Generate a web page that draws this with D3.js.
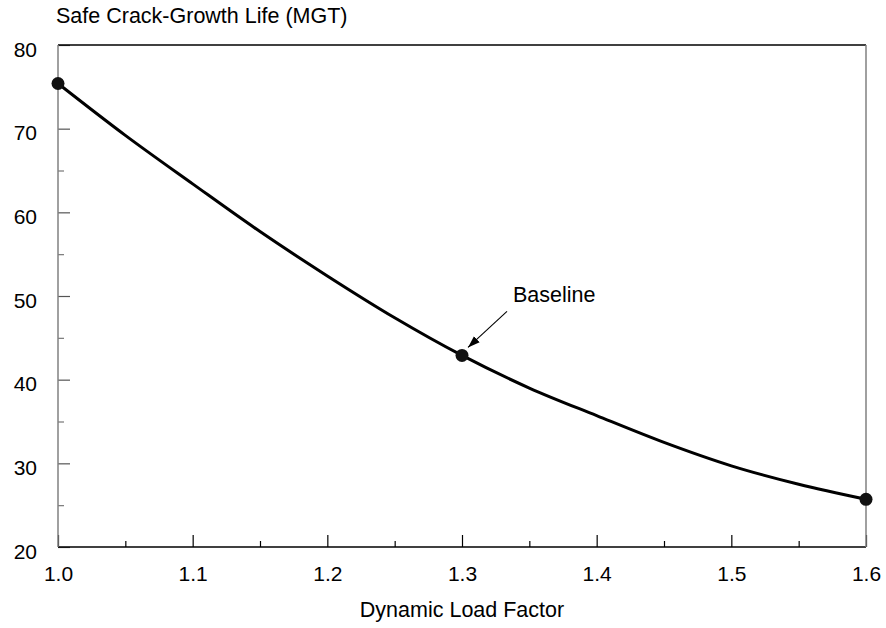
<!DOCTYPE html>
<html>
<head>
<meta charset="utf-8">
<script src="https://cdn.jsdelivr.net/npm/d3@7"></script>
<style>
  html, body { margin: 0; padding: 0; background: #fff; }
  svg { display: block; font-family: Arial, "Liberation Sans", sans-serif; }
</style>
</head>
<body>
<svg id="chart" width="886" height="628"></svg>
<script>
// ---- data ----
const loadFactors = [1.0, 1.05, 1.1, 1.15, 1.2, 1.25, 1.3, 1.35, 1.4, 1.45, 1.5, 1.55, 1.6];
const lifeMGT     = [75.4, 69.2, 63.4, 57.7, 52.4, 47.4, 42.9, 39.0, 35.7, 32.5, 29.7, 27.5, 25.7];
const markerFactors = [1.0, 1.3, 1.6];
const xMajorTicks = [1.0, 1.1, 1.2, 1.3, 1.4, 1.5, 1.6];
const xMinorTicks = [1.05, 1.15, 1.25, 1.35, 1.45, 1.55];
const yMajorTicks = [20, 30, 40, 50, 60, 70, 80];
const yMinorTicks = [25, 35, 45, 55, 65, 75];
const yTitle = "Safe Crack-Growth Life (MGT)";
const xTitle = "Dynamic Load Factor";
const annotation = { x: 1.3, text: "Baseline" };

// ---- layout ----
const L = 58, R = 866, T = 45, B = 547;
const svg = d3.select("#chart");
const x = d3.scaleLinear().domain([1.0, 1.6]).range([L, R]);
const y = d3.scaleLinear().domain([20, 80]).range([B, T]);
const fsTick = 21, fsTitle = 21.5;

// axes (ticks inside)
const gx = svg.append("g").attr("transform", `translate(0,${B})`)
  .call(d3.axisBottom(x).tickValues(xMajorTicks).tickSize(-12).tickFormat(d3.format(".1f")));
gx.select(".domain").remove();
gx.selectAll("line").attr("stroke", "#000").attr("stroke-width", 1.2);
gx.selectAll("text").attr("font-size", fsTick).attr("fill", "#000").attr("y", 34).attr("dy", null);

const gxm = svg.append("g").attr("transform", `translate(0,${B})`)
  .call(d3.axisBottom(x).tickValues(xMinorTicks).tickSize(-6).tickFormat(""));
gxm.select(".domain").remove();
gxm.selectAll("line").attr("stroke", "#000").attr("stroke-width", 1.2);

const gy = svg.append("g").attr("transform", `translate(${L},0)`)
  .call(d3.axisLeft(y).tickValues(yMajorTicks).tickSize(-12).tickFormat(d3.format("d")));
gy.select(".domain").remove();
gy.selectAll("line").attr("stroke", "#555").attr("stroke-width", 1.2);
gy.selectAll("text").attr("font-size", fsTick).attr("fill", "#000")
  .attr("x", -21).attr("dy", null).attr("y", 11);

const gym = svg.append("g").attr("transform", `translate(${L},0)`)
  .call(d3.axisLeft(y).tickValues(yMinorTicks).tickSize(-6).tickFormat(""));
gym.select(".domain").remove();
gym.selectAll("line").attr("stroke", "#777").attr("stroke-width", 1.2);

// frame
svg.append("line").attr("x1", L).attr("x2", R).attr("y1", T).attr("y2", T).attr("stroke", "#000").attr("stroke-width", 1.3);
svg.append("line").attr("x1", L).attr("x2", R).attr("y1", B).attr("y2", B).attr("stroke", "#000").attr("stroke-width", 1.3);
svg.append("line").attr("x1", L).attr("x2", L).attr("y1", T).attr("y2", B).attr("stroke", "#808080").attr("stroke-width", 1.5);
svg.append("line").attr("x1", R).attr("x2", R).attr("y1", T).attr("y2", B).attr("stroke", "#808080").attr("stroke-width", 1.5);

// curve
const pts = loadFactors.map((f, i) => [f, lifeMGT[i]]);
svg.append("path").datum(pts)
  .attr("fill", "none").attr("stroke", "#000").attr("stroke-width", 3)
  .attr("d", d3.line().x(d => x(d[0])).y(d => y(d[1])).curve(d3.curveMonotoneX));

// markers
svg.selectAll("circle.m").data(markerFactors).enter().append("circle")
  .attr("cx", d => x(d))
  .attr("cy", d => y(lifeMGT[loadFactors.indexOf(d)]))
  .attr("r", 6.5).attr("fill", "#111");

// annotation
const ax = x(annotation.x), ay = y(lifeMGT[loadFactors.indexOf(annotation.x)]);
const defs = svg.append("defs");
defs.append("marker").attr("id", "arr").attr("viewBox", "0 0 10 10")
  .attr("refX", 10).attr("refY", 5).attr("markerWidth", 12).attr("markerHeight", 12)
  .attr("markerUnits", "userSpaceOnUse").attr("orient", "auto")
  .append("path").attr("d", "M0,1.5 L10,5 L0,8.5 Z").attr("fill", "#000");
svg.append("line")
  .attr("x1", ax + 45).attr("y1", ay - 44)
  .attr("x2", ax + 6).attr("y2", ay - 8)
  .attr("stroke", "#000").attr("stroke-width", 1.1).attr("marker-end", "url(#arr)");
svg.append("text").attr("x", ax + 51).attr("y", ay - 53)
  .attr("font-size", fsTitle).attr("fill", "#000").text(annotation.text);

// titles
svg.append("text").attr("x", 56).attr("y", 23).attr("font-size", fsTitle).attr("fill", "#000").text(yTitle);
svg.append("text").attr("x", (L + R) / 2).attr("y", 617).attr("text-anchor", "middle")
  .attr("font-size", fsTitle).attr("fill", "#000").text(xTitle);
</script>
</body>
</html>
